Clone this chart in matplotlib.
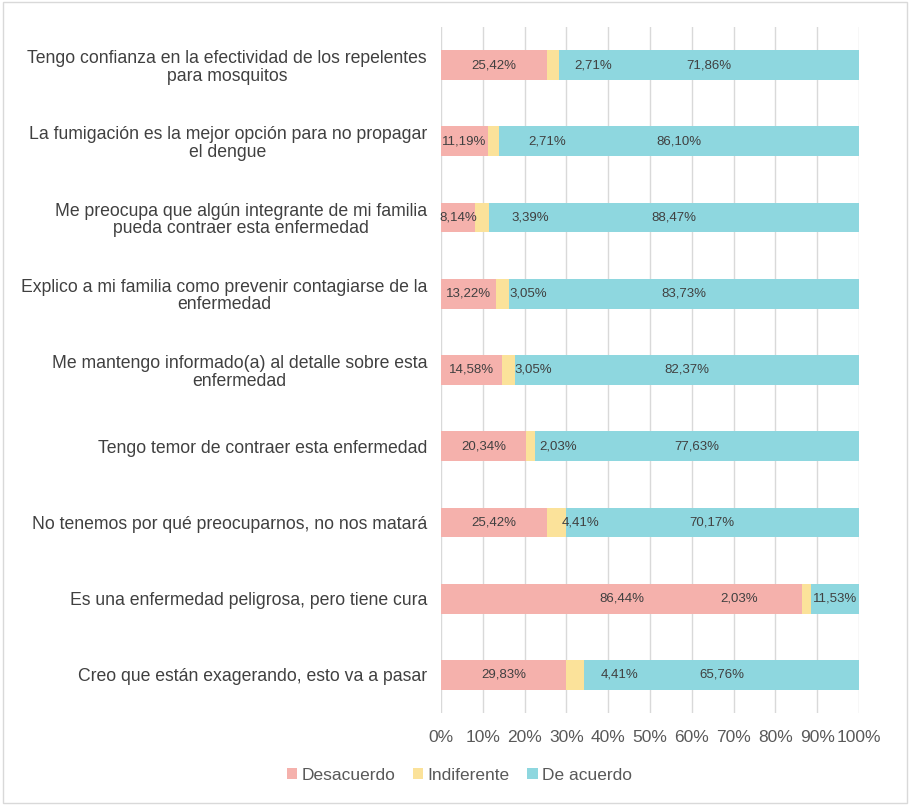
import numpy as np
import matplotlib
matplotlib.use('Agg')
import matplotlib.pyplot as plt
from matplotlib.patches import Rectangle

# datos de la encuesta (de arriba hacia abajo)
preguntas = [
    'Tengo confianza en la efectividad de los repelentes\npara mosquitos',
    'La fumigación es la mejor opción para no propagar\nel dengue',
    'Me preocupa que algún integrante de mi familia\npueda contraer esta enfermedad',
    'Explico a mi familia como prevenir contagiarse de la\nenfermedad',
    'Me mantengo informado(a) al detalle sobre esta\nenfermedad',
    'Tengo temor de contraer esta enfermedad',
    'No tenemos por qué preocuparnos, no nos matará',
    'Es una enfermedad peligrosa, pero tiene cura',
    'Creo que están exagerando, esto va a pasar',
]
desacuerdo = [25.42, 11.19, 8.14, 13.22, 14.58, 20.34, 25.42, 86.44, 29.83]
indiferente = [2.71, 2.71, 3.39, 3.05, 3.05, 2.03, 4.41, 2.03, 4.41]
de_acuerdo = [71.86, 86.10, 88.47, 83.73, 82.37, 77.63, 70.17, 11.53, 65.76]
ticks = [0, 10, 20, 30, 40, 50, 60, 70, 80, 90, 100]

# las etiquetas de "Indiferente" estan desplazadas en el original
pos_etiqueta_ind = [36.4, 25.3, 21.3, 20.8, 22.0, 28.0, 33.3, 71.2, 42.7]

col_des = '#F5B1AC'
col_ind = '#FBE29A'
col_acu = '#8ED7DF'

plt.rcParams['font.family'] = ['Liberation Sans', 'DejaVu Sans']

fig = plt.figure(figsize=(9.1, 8.05), dpi=100)
ax = fig.add_axes([0.4846, 0.1143, 0.4594, 0.8522])

y = np.arange(len(preguntas))
des = np.array(desacuerdo)
ind = np.array(indiferente)
acu = np.array(de_acuerdo)

alto = 0.39
ax.barh(y, des, height=alto, color=col_des, label='Desacuerdo', zorder=3)
ax.barh(y, ind, left=des, height=alto, color=col_ind, label='Indiferente', zorder=3)
ax.barh(y, acu, left=des + ind, height=alto, color=col_acu, label='De acuerdo', zorder=3)

def fmt(v):
    return ('%.2f%%' % v).replace('.', ',')

for i in range(len(preguntas)):
    ax.text(des[i] / 2, y[i], fmt(des[i]), ha='center', va='center',
            fontsize=9.5, color='#404040', zorder=4)
    ax.text(pos_etiqueta_ind[i], y[i], fmt(ind[i]), ha='center', va='center',
            fontsize=9.5, color='#404040', zorder=4)
    ax.text(des[i] + ind[i] + acu[i] / 2, y[i], fmt(acu[i]), ha='center', va='center',
            fontsize=9.5, color='#404040', zorder=4)

ax.set_xlim(0, 100)
ax.set_ylim(len(preguntas) - 0.5, -0.5)
ax.set_xticks(ticks)
ax.set_xticklabels(['%d%%' % t for t in ticks], fontsize=12.5, color='#595959')
ax.set_yticks(y)
ax.set_yticklabels(preguntas, fontsize=12.7, color='#404040', linespacing=1.05)
for lbl in ax.get_yticklabels():
    lbl.set_multialignment('center')
ax.tick_params(axis='both', length=0)
ax.tick_params(axis='y', pad=10)
ax.tick_params(axis='x', pad=12)
ax.xaxis.grid(True, color='#D9D9D9', linewidth=1, zorder=0)
for s in ax.spines.values():
    s.set_visible(False)

leg = fig.legend(loc='center', bbox_to_anchor=(0.505, 0.037), ncol=3, frameon=False,
                 fontsize=12.5, handlelength=0.6, handleheight=0.6, handletextpad=0.25,
                 columnspacing=1.0)
for t in leg.get_texts():
    t.set_color('#595959')

# borde del area del grafico
fig.patches.append(Rectangle((0.003, 0.003), 0.994, 0.994, transform=fig.transFigure,
                             fill=False, edgecolor='#D9D9D9', linewidth=1))

fig.savefig('out.png', dpi=100)
